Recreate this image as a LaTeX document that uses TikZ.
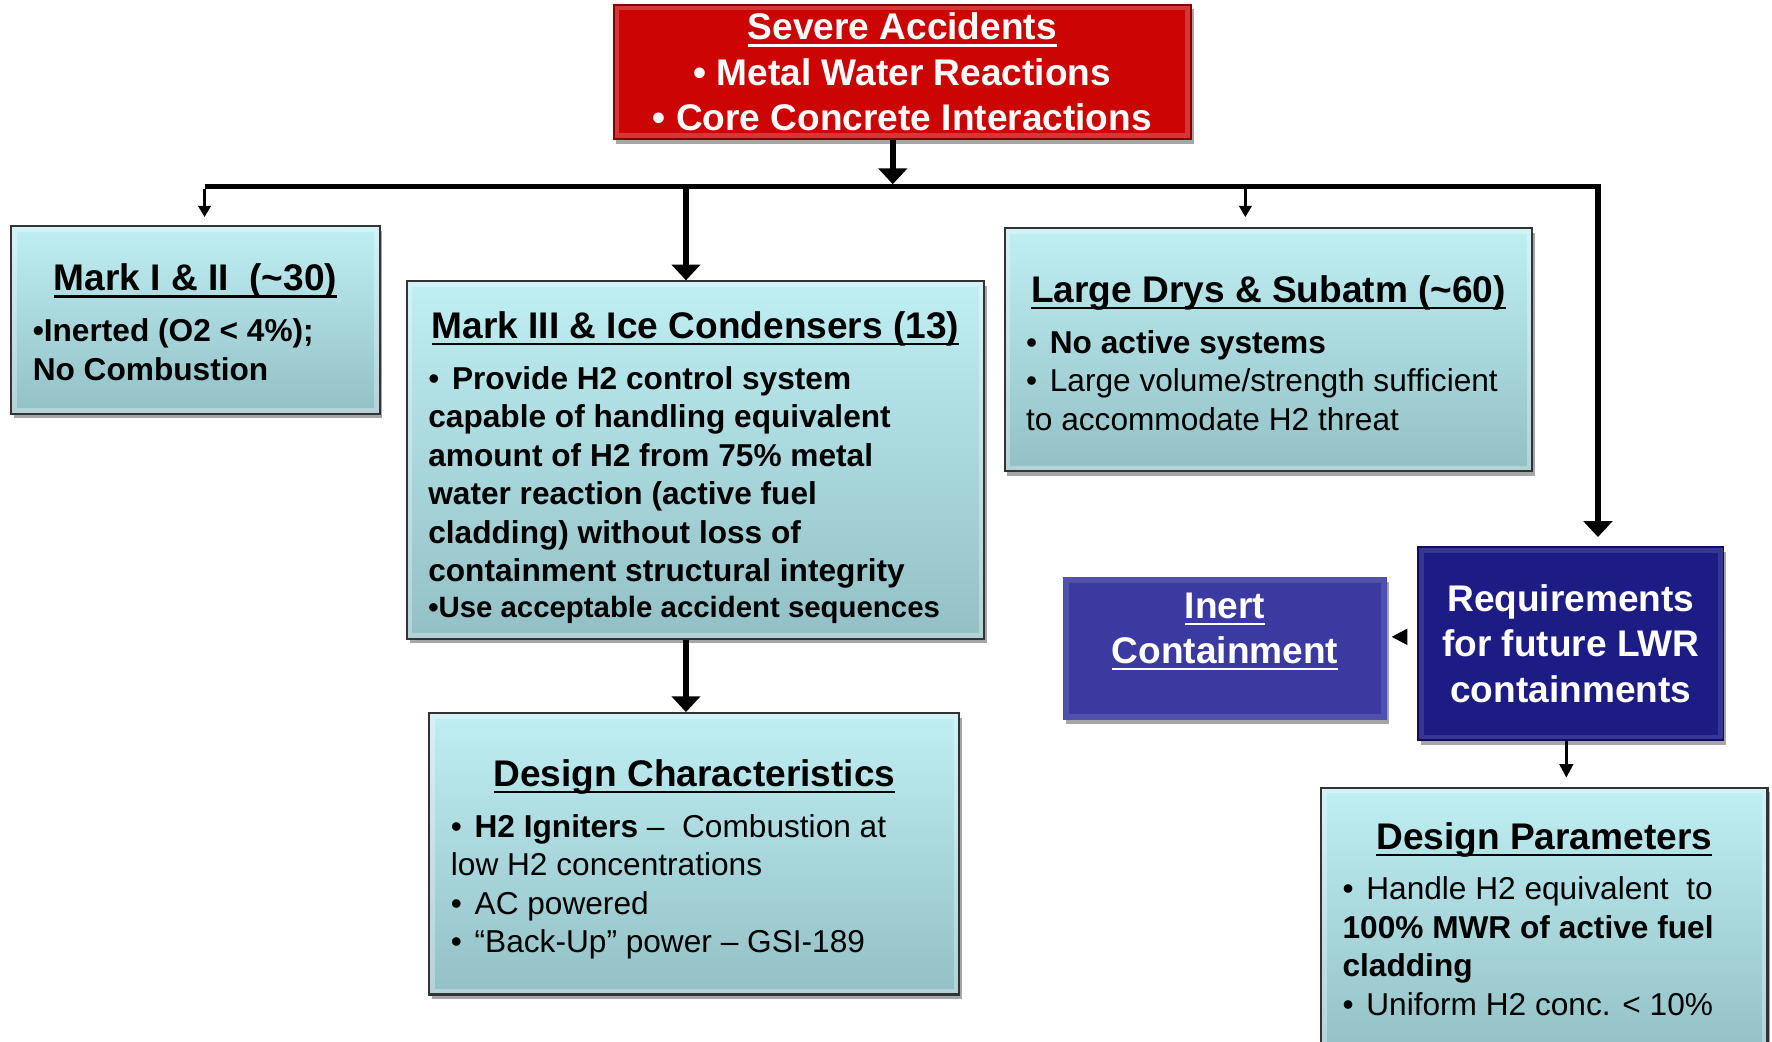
\documentclass[tikz,border=0pt]{standalone}
\usepackage{fontspec}
\setmainfont{Liberation Sans}
\usetikzlibrary{arrows.meta,shadows}

\definecolor{cyT}{RGB}{192,239,243}
\definecolor{cyB}{RGB}{146,192,197}
\definecolor{redF}{RGB}{204,4,4}
\definecolor{redD}{RGB}{130,0,0}
\definecolor{navyF}{RGB}{28,28,132}
\definecolor{navyD}{RGB}{16,16,80}
\definecolor{indF}{RGB}{58,58,160}

\newcommand\uln[1]{\leavevmode\setbox0\hbox{#1}\rlap{\rule[-3pt]{\wd0}{1pt}}\box0}
\newcommand\ttl{\fontsize{16.4}{20}\selectfont\bfseries}
\newcommand\bdy{\fontsize{14}{17}\selectfont}
\newcommand\bu{{\mdseries •}\hspace{5.6pt}}
\newcommand\boxttl[1]{\makebox[\linewidth]{\ttl\uln{#1}}\par\vspace{5.5pt}}

\tikzset{
  bevel/.style={path picture={\draw[white,opacity=#1,line width=5pt]
     (path picture bounding box.south west) rectangle (path picture bounding box.north east);}},
  bevel/.default=0.3,
  shad/.style={drop shadow={shadow xshift=1.2pt,shadow yshift=-2pt,fill=black,opacity=0.35}},
  cybox/.style={draw=black!80,line width=0.9pt,top color=cyT,bottom color=cyB,
     inner xsep=9.5pt,inner ysep=0pt,shad,bevel},
  redbox/.style={draw=redD,line width=0.9pt,fill=redF,text=white,inner sep=0pt,shad,bevel=0.2},
  navybox/.style={draw=navyD,line width=0.8pt,fill=navyF,text=white,inner sep=0pt,shad,bevel=0.12},
  indbox/.style={fill=indF,text=white,inner sep=0pt,shad,bevel=0.12},
  thickarrow/.style={line width=2.4pt,-{Triangle[width=12.5pt,length=7pt]}},
  thinarrow/.style={line width=1.3pt,-{Triangle[width=5.5pt,length=5pt]}},
  busline/.style={line width=2.4pt}
}

\begin{document}
\begin{tikzpicture}[x=0.5pt,y=-0.5pt]
\useasboundingbox (0,0) rectangle (1568,922);

% header
\node[redbox] (red) at (798.5,63.5) {\parbox[c][59.5pt][c]{255.5pt}{\centering\ttl
  \uln{Severe Accidents}\\ • Metal Water Reactions\\ • Core Concrete Interactions}};

% cyan boxes
\node[cybox] (mark1) at (173,283) {\parbox[c][83pt][c]{144pt}{\bdy\vspace*{2pt}
  \boxttl{Mark I \& II\ \ (\textasciitilde30)}
  \bfseries\mbox{•Inerted (O2 < 4\%);}\\
  \mbox{No Combustion}}};

\node[cybox] (mark3) at (615.5,407) {\parbox[c][158pt][c]{236.5pt}{\bdy\vspace*{7pt}
  \boxttl{Mark III \& Ice Condensers (13)}
  \bfseries\mbox{\bu Provide H2 control system}\\
  \mbox{capable of handling equivalent}\\
  \mbox{amount of H2 from 75\% metal}\\
  \mbox{water reaction (active fuel}\\
  \mbox{cladding) without loss of}\\
  \mbox{containment structural integrity}\par
  {\fontsize{13}{16}\selectfont\mbox{•Use acceptable accident sequences}\par}}};

\node[cybox] (large) at (1122.5,309.5) {\parbox[c][107.5pt][c]{214.5pt}{\bdy\vspace*{3pt}
  \boxttl{Large Drys \& Subatm (\textasciitilde60)}
  \mbox{\bu\textbf{No active systems}}\\
  \mbox{\bu Large volume/strength sufficient}\\
  \mbox{to accommodate H2 threat}}};

\node[cybox] (dchar) at (614.5,755.5) {\parbox[c][124.5pt][c]{215.5pt}{\bdy\vspace*{5pt}
  \boxttl{Design Characteristics}
  \mbox{\bu\textbf{H2 Igniters} –\ \ Combustion at}\\
  \mbox{low H2 concentrations}\\
  \mbox{\bu AC powered}\\
  \mbox{\bu “Back-Up” power – GSI-189}}};

\node[cybox] (dparam) at (1366.5,816) {\parbox[c][119pt][c]{178.5pt}{\bdy\vspace*{-3pt}
  \boxttl{Design Parameters}
  \mbox{\bu Handle H2 equivalent\ \ to}\\
  \mbox{\textbf{100\% MWR of active fuel}}\\
  \mbox{\textbf{cladding}}\\
  \mbox{\bu Uniform H2 conc. < 10\%}}};

% blue boxes
\node[navybox] (req) at (1390,569.5) {\parbox[c][85.5pt][c]{135pt}{\centering\ttl
  Requirements\\ for future LWR\\ containments}};

\node[indbox] (inert) at (1084,574) {\parbox[c][63pt][t]{143pt}{\vspace*{6.8pt}\centering\ttl
  \uln{Inert}\\ \uln{Containment}}};

% bus coordinates
\coordinate (bL) at (181,165);
\coordinate (bM3) at (607,165);
\coordinate (bC) at (790,165);
\coordinate (bLD) at (1102,165);
\coordinate (bR) at (1414,165);

% connectors
\draw[busline] (bL) -- (bR);
\draw[thickarrow,shorten >=1pt] (red.south -| bC) -- (bC);
\draw[thinarrow,shorten >=3.5pt] ([yshift=-1pt]bL) -- (mark1.north -| bL);
\draw[thickarrow] (bM3) -- (mark3.north -| bM3);
\draw[thinarrow,shorten >=4.5pt] (bLD) -- (large.north -| bLD);
\draw[thickarrow,shorten >=4pt] ([yshift=1.2pt]bR) -- (req.north -| bR);
\draw[thickarrow] (mark3.south -| bM3) -- (dchar.north -| bM3);
\draw[line width=1.2pt,-{Triangle[width=7pt,length=7pt]},shorten <=5pt,shorten >=2pt]
  ([yshift=3pt]req.west) -- ([yshift=3pt]req.west -| inert.east);
\draw[line width=1.2pt,-{Triangle[width=6pt,length=6pt]},shorten >=4pt]
  (req.south -| 1386,0) -- (dparam.north -| 1386,0);
\end{tikzpicture}
\end{document}
